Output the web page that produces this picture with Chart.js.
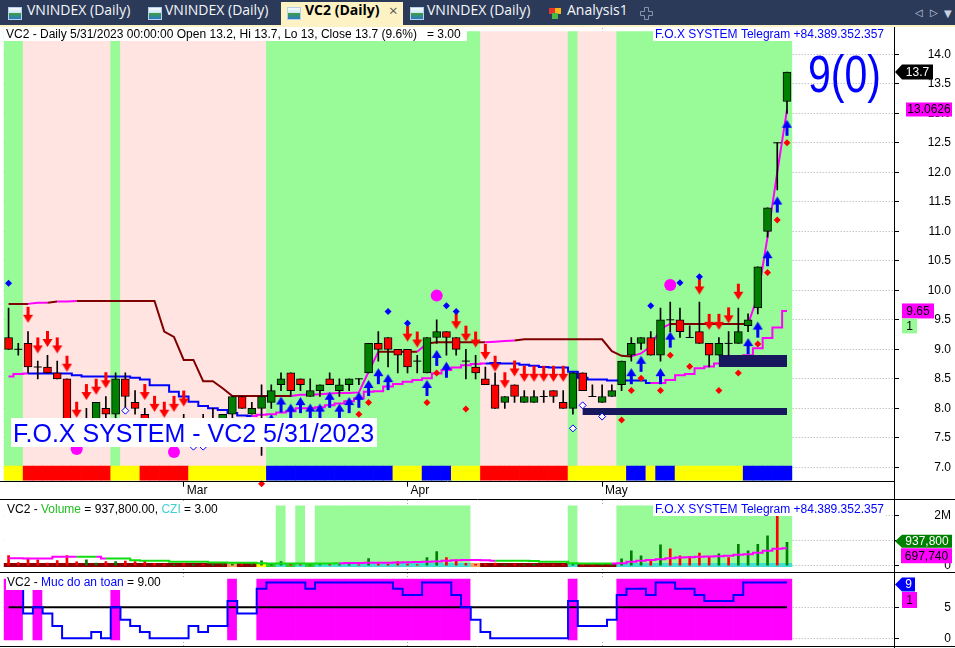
<!DOCTYPE html>
<html>
<head>
<meta charset="utf-8">
<title>VC2 (Daily)</title>
<script src="https://cdn.jsdelivr.net/npm/chart.js@4.4.0/dist/chart.umd.min.js"></script>
<style>
  html, body { margin: 0; padding: 0; background: #fff; }
  body { position: relative; width: 955px; height: 648px; overflow: hidden; }
  #tabs { position: absolute; left: 0; top: 0; width: 955px; height: 25px; background: #2b3a58; }
  #tabs .t { position: absolute; top: 0; height: 26px; line-height: 26px; color: #f5f7fb; font: 14px "Open Sans", sans-serif; white-space: nowrap; }
  #tabs .on { position: absolute; left: 281px; top: 2px; width: 122px; height: 24px; background: #fdf2c4; }
  #tabs .ico { position: absolute; top: 7px; width: 14px; height: 13px; box-sizing: border-box; border: 1px solid #b6d0ec;
               background: linear-gradient(180deg, #f5faff 0, #cde3f8 48%, #3b9d47 49%, #2a78c8 100%); }
  #tabs .an { position: absolute; width: 6px; height: 6px; }
  #tabline { position: absolute; left: 0; top: 25px; width: 955px; height: 2px; background: #fdf2c4; }
  canvas { position: absolute; left: 0; }
</style>
</head>
<body>
<div id="tabs">
  <div class="ico" style="left:8px"></div><div class="t" style="left:27px">VNINDEX (Daily)</div>
  <div class="ico" style="left:148px"></div><div class="t" style="left:165px">VNINDEX (Daily)</div>
  <div class="on"></div>
  <div class="ico" style="left:287px"></div><div class="t" style="left:305px;color:#000;font-weight:bold">VC2 (Daily)</div>
  <div class="t" style="left:389px;color:#555;font-size:15px">×</div>
  <div class="ico" style="left:410px"></div><div class="t" style="left:427px">VNINDEX (Daily)</div>
  <div class="an" style="left:549px;top:8px;background:#e8352b"></div>
  <div class="an" style="left:555px;top:8px;background:#f2b51c"></div>
  <div class="an" style="left:552px;top:13px;background:#4cb648"></div>
  <div class="t" style="left:567px">Analysis1</div>
  <svg style="position:absolute;left:640px;top:7px" width="13" height="13"><path d="M4.5 0.5h4v4h4v4h-4v4h-4v-4h-4v-4h4z" fill="none" stroke="#8a94a8"/></svg>
  <div class="t" style="left:915px;font:10px 'DejaVu Sans';line-height:26px;color:#c9d1e0">◁</div>
  <div class="t" style="left:930px;font:10px 'DejaVu Sans';line-height:26px;color:#c9d1e0">▷</div>
  <div class="t" style="left:944px;font:10px 'DejaVu Sans';line-height:28px;color:#c9d1e0">▼</div>
</div>
<div id="tabline"></div>
<canvas id="c1" width="955" height="472" style="top:27px"></canvas>
<canvas id="c2" width="955" height="73" style="top:499px"></canvas>
<canvas id="c3" width="955" height="76" style="top:572px"></canvas>

<script>
const FONT = '"Liberation Sans", Arial, sans-serif';

// ---------- data ----------
const febDays = [3, 6, 7, 8, 9, 10, 13, 14, 15, 16, 17, 20, 21, 22, 23, 24, 27, 28];
const marDays = [1, 2, 3, 6, 7, 8, 9, 10, 13, 14, 15, 16, 17, 20, 21, 22, 23, 24, 27, 28, 29, 30, 31];
const aprDays = [3, 4, 5, 6, 7, 10, 11, 12, 13, 14, 17, 18, 19, 20, 21, 24, 25, 26, 27, 28];
const mayDays = [4, 5, 8, 9, 10, 11, 12, 15, 16, 17, 18, 19, 22, 23, 24, 25, 26, 29, 30, 31];
const categories = [].concat(
  febDays.map(d => '2/' + d + '/2023'),
  marDays.map(d => '3/' + d + '/2023'),
  aprDays.map(d => '4/' + d + '/2023'),
  mayDays.map(d => '5/' + d + '/2023'));
const monthNames = { 2: 'Feb', 3: 'Mar', 4: 'Apr', 5: 'May' };

const priceTicks = [7.0, 7.5, 8.0, 8.5, 9.0, 9.5, 10.0, 10.5, 11.0, 11.5, 12.0, 12.5, 13.0, 13.5, 14.0];
const volumeTicks = [0, 1000000, 2000000];
const safetyTicks = [0, 5];

const open = [9.2, 9.0, 9.1, 8.7, 8.7, 8.6, 8.5, 7.7, 7.5, 7.7,
  8.0, 7.9, 8.5, 8.1, 7.9, 7.8, 7.6, 7.5, 7.7, 7.6,
  7.8, 7.7, 7.7, 7.9, 8.2, 7.9, 8.0, 8.1, 8.4, 8.6,
  8.5, 8.2, 8.3, 8.5, 8.3, 8.4, 8.5, 8.6, 9.1, 9.2,
  9.0, 9.0, 8.8, 8.6, 9.2, 9.3, 9.2, 8.8, 8.7, 8.5,
  8.4, 8.1, 8.4, 8.1, 8.1, 8.2, 8.3, 8.1, 8.0, 8.6,
  8.2, 8.1, 8.2, 8.4, 8.9, 9.1, 9.2, 8.9, 9.5, 9.5,
  9.2, 9.3, 9.1, 8.9, 9.1, 9.1, 9.4, 9.7, 11.0, 12.5,
  13.2];
const high = [9.7, 9.1, 9.3, 8.8, 8.9, 8.8, 8.5, 7.7, 8.0, 8.1,
  8.2, 8.6, 8.6, 8.3, 8.0, 7.8, 7.7, 7.8, 7.9, 7.8,
  7.9, 8.0, 7.9, 8.2, 8.2, 8.1, 8.4, 8.4, 8.6, 8.6,
  8.5, 8.5, 8.4, 8.6, 8.5, 8.5, 8.5, 9.1, 9.3, 9.2,
  9.0, 9.0, 8.9, 9.2, 9.5, 9.3, 9.2, 9.0, 8.9, 8.7,
  8.6, 8.2, 8.4, 8.3, 8.3, 8.3, 8.3, 8.3, 8.6, 8.6,
  8.4, 8.4, 8.4, 8.8, 9.2, 9.2, 9.3, 9.7, 9.8, 9.7,
  9.4, 9.8, 9.1, 9.2, 9.3, 9.7, 9.6, 10.4, 11.4, 12.5,
  13.7];
const low = [9.0, 8.9, 8.6, 8.5, 8.6, 8.5, 7.6, 7.4, 7.5, 7.6,
  7.8, 7.8, 8.0, 7.9, 7.7, 7.5, 7.4, 7.4, 7.5, 7.5,
  7.6, 7.6, 7.6, 7.8, 8.0, 7.9, 7.2, 8.0, 8.3, 8.2,
  8.3, 8.2, 8.2, 8.4, 8.2, 8.3, 8.4, 8.6, 8.8, 8.7,
  8.6, 8.6, 8.6, 8.6, 9.1, 8.9, 8.9, 8.5, 8.5, 8.4,
  8.0, 8.0, 8.1, 8.1, 8.1, 8.1, 8.1, 8.0, 7.9, 8.3,
  8.2, 8.1, 8.2, 8.3, 8.8, 9.0, 8.9, 8.8, 9.3, 9.2,
  9.2, 9.1, 8.7, 8.9, 8.9, 9.1, 9.3, 9.6, 10.9, 11.7,
  13.0];
const close = [9.0, 9.0, 8.7, 8.7, 8.6, 8.5, 7.7, 7.5, 7.7, 8.1,
  7.9, 8.5, 8.2, 8.0, 7.8, 7.6, 7.5, 7.6, 7.6, 7.7,
  7.7, 7.8, 7.9, 8.2, 8.0, 8.0, 8.2, 8.3, 8.5, 8.3,
  8.4, 8.3, 8.4, 8.4, 8.4, 8.5, 8.5, 9.1, 9.0, 9.0,
  8.9, 8.7, 8.8, 9.2, 9.3, 9.2, 9.0, 8.8, 8.6, 8.4,
  8.0, 8.2, 8.2, 8.2, 8.2, 8.2, 8.2, 8.0, 8.6, 8.3,
  8.2, 8.2, 8.3, 8.8, 9.1, 9.2, 8.9, 9.5, 9.5, 9.3,
  9.2, 9.1, 8.9, 9.1, 9.1, 9.3, 9.5, 10.4, 11.4, 12.5,
  13.7];

const volume = [400000, 120000, 300000, 230000, 100000, 200000, 400000, 150000, 230000, 100000,
  160000, 160000, 180000, 160000, 180000, 90000, 60000, 50000, 80000, 50000,
  60000, 50000, 40000, 60000, 50000, 40000, 190000, 50000, 160000, 50000,
  40000, 30000, 40000, 50000, 40000, 40000, 30000, 280000, 60000, 50000,
  160000, 60000, 40000, 320000, 560000, 320000, 230000, 90000, 50000, 60000,
  100000, 40000, 60000, 40000, 50000, 30000, 50000, 40000, 60000, 50000,
  30000, 40000, 50000, 270000, 590000, 390000, 230000, 830000, 670000, 390000,
  370000, 500000, 370000, 470000, 320000, 850000, 590000, 850000, 1190000, 1990000,
  937800];
const volumeAvg = [300000, 300000, 290000, 290000, 290000, 360000, 360000, 360000, 360000, 360000,
  290000, 290000, 290000, 220000, 200000, 200000, 200000, 160000, 160000, 160000,
  160000, 130000, 130000, 120000, 120000, 120000, 100000, 90000, 90000, 90000,
  90000, 90000, 90000, 90000, 100000, 110000, 110000, 120000, 120000, 120000,
  130000, 140000, 150000, 160000, 170000, 200000, 220000, 230000, 230000, 220000,
  200000, 200000, 200000, 200000, 190000, 160000, 160000, 160000, 100000, 90000,
  90000, 90000, 90000, 100000, 160000, 200000, 230000, 260000, 300000, 330000,
  340000, 360000, 370000, 380000, 400000, 440000, 460000, 520000, 600000, 680000,
  697740];

// upper trailing line (brown / magenta) and lower stop line (blue / magenta)
const trendLine = [9.77, 9.77, 9.77, 9.79, 9.79, 9.81, 9.81, 9.82, 9.82, 9.82,
  9.82, 9.82, 9.82, 9.82, 9.82, 9.82, 9.30, 9.21, 8.82, 8.82,
  8.46, 8.46, 8.34, 8.21, 8.21, 8.21, 8.21, 8.21, 8.21, 8.21,
  8.23, 8.23, 8.24, 8.25, 8.26, 8.26, 8.27, 8.62, 8.96, 8.96,
  8.96, 8.96, 8.96, 9.10, 9.12, 9.12, 9.12, 9.12, 9.12, 9.12,
  9.13, 9.14, 9.15, 9.17, 9.17, 9.17, 9.17, 9.17, 9.17, 9.17,
  9.17, 9.17, 8.97, 8.89, 8.88, 8.93, 9.05, 9.35, 9.43, 9.43,
  9.43, 9.43, 9.43, 9.43, 9.43, 9.43, 9.43, 9.90, 10.90, 12.00,
  13.0626];
const stopLine = [8.54, 8.58, 8.59, 8.59, 8.59, 8.59, 8.59, 8.56, 8.54, 8.54,
  8.54, 8.54, 8.54, 8.52, 8.49, 8.39, 8.39, 8.28, 8.20, 8.11,
  8.04, 8.00, 7.97, 7.92, 7.88, 7.87, 7.89, 7.90, 7.93, 7.95,
  8.00, 8.00, 8.02, 8.05, 8.08, 8.12, 8.17, 8.28, 8.29, 8.37,
  8.41, 8.45, 8.48, 8.51, 8.59, 8.65, 8.69, 8.73, 8.75, 8.76,
  8.77, 8.76, 8.76, 8.74, 8.72, 8.70, 8.69, 8.69, 8.62, 8.52,
  8.49, 8.49, 8.47, 8.47, 8.47, 8.47, 8.43, 8.43, 8.48, 8.56,
  8.58, 8.68, 8.71, 8.76, 8.80, 8.85, 8.90, 9.02, 9.19, 9.37,
  9.65];
const safety = [8, 8, 4, 5, 4, 2, 0, 0, 0, 1,
  0, 5, 3, 2, 1, 0, 0, 0, 0, 2,
  1, 2, 2, 6, 4, 4, 8, 9, 9, 9,
  9, 8, 9, 9, 9, 9, 9, 9, 9, 9,
  8, 7, 7, 9, 9, 9, 7, 5, 3, 1,
  0, 0, 0, 0, 0, 0, 0, 0, 6, 2,
  2, 2, 3, 7, 8, 8, 7, 9, 9, 8,
  8, 7, 6, 6, 6, 7, 9, 9, 9, 9,
  9];
const safeLevel = 5;
const cziValue = 3;
const zoneFlag = 1;

// signal markers: bar index + price
const sellBars = [2, 3, 4, 5, 6, 7, 8, 9, 10, 14, 15, 16, 17, 18, 41, 42, 46, 47, 48, 49, 50, 51, 52, 53, 54, 55, 56, 57, 71, 72, 73, 74, 75];
const sellPrice = [9.45, 8.93, 9.04, 8.93, 8.62, 7.84, 8.14, 8.23, 8.34, 8.14, 7.94, 7.84, 7.94, 8.03, 9.13, 9.03, 9.34, 9.13, 9.03, 8.82, 8.62, 8.34, 8.54, 8.45, 8.45, 8.45, 8.45, 8.45, 9.93, 9.33, 9.33, 9.44, 9.84];
const buyBars = [27, 28, 29, 30, 31, 32, 33, 34, 35, 36, 37, 38, 39, 43, 44, 45, 64, 65, 67, 68, 76, 77, 78, 79, 80];
const buyPrice = [7.90, 8.20, 8.08, 8.19, 8.08, 8.08, 8.28, 8.08, 8.19, 8.28, 8.48, 8.68, 8.58, 8.48, 8.99, 8.79, 8.68, 8.89, 8.68, 9.30, 9.19, 9.47, 10.68, 11.59, 12.89];
const redDotBars = [26, 36, 37, 43, 44, 47, 63, 64, 65, 67, 68, 70, 73, 75, 77, 78, 79, 80];
const redDotPrice = [6.72, 7.90, 8.10, 8.10, 8.60, 7.99, 7.80, 8.30, 8.51, 8.30, 8.90, 8.71, 8.30, 8.60, 9.09, 10.30, 11.19, 12.50];
const blueDotBars = [0, 39, 41, 45, 46, 66, 69, 71];
const blueDotPrice = [10.12, 9.64, 9.44, 9.74, 9.64, 9.74, 10.13, 10.23];
const hollowBars = [12, 19, 20, 58, 59, 61];
const hollowPrice = [7.96, 7.35, 7.35, 7.66, 8.05, 7.86];
const bigDotBars = [7, 17, 44, 68];
const bigDotPrice = [7.31, 7.26, 9.91, 10.09];
const boxFrom = [59, 73];
const boxTo = [80, 80];
const boxLevel = [7.945, 8.80];

// per-bar states as runs: [code, count]
const mainZoneRuns = [['G', 2], ['P', 9], ['G', 1], ['P', 15], ['G', 22], ['P', 9], ['G', 1], ['P', 4], ['G', 18]];
const signalRuns = [['Y', 2], ['R', 9], ['Y', 3], ['R', 5], ['Y', 8], ['B', 13], ['Y', 3], ['B', 3], ['Y', 3], ['R', 9], ['Y', 6], ['B', 2], ['Y', 1], ['B', 2], ['Y', 7], ['B', 5]];
const trendColorRuns = [['B', 3], ['M', 2], ['B', 1], ['M', 2], ['B', 22], ['M', 9], ['B', 4], ['M', 1], ['B', 6], ['M', 3], ['B', 12], ['M', 4], ['B', 8], ['M', 4]];
const stopColorRuns = [['M', 3], ['B', 23], ['M', 24], ['B', 17], ['M', 14]];
const volZoneRuns = [['.', 28], ['G', 1], ['.', 1], ['G', 1], ['.', 1], ['G', 16], ['.', 10], ['G', 1], ['.', 4], ['G', 18]];
const volStripRuns = [['D', 23], ['O', 1], ['D', 2], ['Y', 1], ['L', 1], ['C', 1], ['L', 1], ['C', 1], ['L', 1], ['C', 16], ['O', 1], ['D', 9], ['C', 1], ['D', 4], ['C', 18]];
const volAvgColorRuns = [['G', 1], ['M', 7], ['G', 2], ['M', 1], ['G', 24], ['M', 16], ['G', 12], ['M', 18]];

// ---------- helpers ----------
function expand(runs) {
  const out = [];
  runs.forEach(([c, n]) => { for (let k = 0; k < n; k++) out.push(c); });
  return out;
}
const mainZone = expand(mainZoneRuns);
const signal = expand(signalRuns);
const trendCol = expand(trendColorRuns);
const stopCol = expand(stopColorRuns);
const volZone = expand(volZoneRuns);
const volStrip = expand(volStripRuns);
const volAvgCol = expand(volAvgColorRuns);

const idx = categories.map((_, i) => i);
const last = categories.length - 1;
const month = i => +categories[i].split('/')[0];
const monthStarts = idx.filter(i => i > 0 && month(i) !== month(i - 1));

const GREEN_BG = '#98fb98', PINK_BG = '#ffe4e1', MAG = '#ff00ff', BROWN = '#800000', BLUE = '#0000ff';
const UP = '#008000', DOWN = '#ff0000';

const measure = document.createElement('canvas').getContext('2d');
function textWidth(t, size) { measure.font = size + 'px ' + FONT; return measure.measureText(t).width; }

function makeArrow(color, down) {
  const c = document.createElement('canvas');
  c.width = 11; c.height = 34;
  const g = c.getContext('2d');
  g.fillStyle = color;
  g.beginPath();
  if (down) {
    g.rect(4, 1, 3, 8);
    g.moveTo(0.5, 9); g.lineTo(10.5, 9); g.lineTo(5.5, 17); g.closePath();
  } else {
    g.moveTo(5.5, 17); g.lineTo(10.5, 25); g.lineTo(0.5, 25); g.closePath();
    g.rect(4, 25, 3, 8);
  }
  g.fill();
  return c;
}
const sellArrow = makeArrow(DOWN, true);
const buyArrow = makeArrow(BLUE, false);

const X_MIN = -0.5, X_MAX = 91.1;
function xAxis(showLabels) {
  return {
    type: 'linear', min: X_MIN, max: X_MAX, offset: false,
    afterBuildTicks: s => { s.ticks = monthStarts.map(v => ({ value: v })); },
    afterFit: s => { s.height = showLabels ? 17.3 : 0; s.paddingLeft = 0; s.paddingRight = 0; s.paddingTop = 0; s.paddingBottom = 0; },
    grid: { offset: false, color: '#a9a9a9', drawTicks: showLabels, tickLength: 5, tickColor: '#000', tickBorderDash: [] },
    border: { display: false, dash: [1, 2] },
    ticks: {
      display: showLabels, autoSkip: false, maxRotation: 0, minRotation: 0, align: 'start', labelOffset: 3, padding: -3,
      color: '#000', font: { family: FONT, size: 12 },
      callback: v => monthNames[month(v)]
    }
  };
}
function yAxis(min, max, tickVals, fmt) {
  const widest = Math.max(...tickVals.map(v => textWidth(fmt(v), 12)));
  return {
    position: 'right', min, max, beginAtZero: false,
    afterBuildTicks: s => { s.ticks = tickVals.map(v => ({ value: v })); },
    afterFit: s => { s.width = 56; s.paddingLeft = 0; s.paddingRight = 0; s.paddingTop = 0; s.paddingBottom = 0; },
    grid: { color: '#a9a9a9', tickLength: 4, tickColor: '#000', tickBorderDash: [] },
    border: { display: false, dash: [1, 2] },
    ticks: { crossAlign: 'far', padding: 52 - widest, color: '#000', font: { family: FONT, size: 12 }, callback: v => fmt(v) }
  };
}
function baseOptions(showLabels, yCfg, padTop, padBottom) {
  return {
    responsive: false, animation: false, devicePixelRatio: 1, events: [],
    layout: { autoPadding: false, padding: { left: 3.7, right: 4, top: padTop, bottom: padBottom } },
    plugins: { legend: { display: false }, tooltip: { enabled: false } },
    scales: { x: xAxis(showLabels), y: yCfg }
  };
}
function band(lo, hi, colors, order) {
  return {
    type: 'bar', order, grouped: false, barPercentage: 1, categoryPercentage: 1, borderWidth: 0,
    data: idx.map(i => ({ x: i, y: [lo, hi] })), backgroundColor: colors
  };
}
function markers(bars, prices, style, order, extra) {
  return Object.assign({
    type: 'line', order, showLine: false, pointStyle: style, pointRadius: 5,
    data: bars.map((b, k) => ({ x: b, y: prices[k] }))
  }, extra || {});
}
function fillBox(ctx, x, y, w, h) { ctx.fillStyle = '#fff'; ctx.fillRect(x, y, w, h); }
function drawParts(ctx, parts, x, y, size, align) {
  ctx.font = size + 'px ' + FONT;
  ctx.textBaseline = 'middle';
  ctx.textAlign = 'left';
  if (align === 'right') x -= parts.reduce((s, p) => s + ctx.measureText(p[0]).width, 0);
  parts.forEach(([t, c]) => { ctx.fillStyle = c; ctx.fillText(t, x, y); x += ctx.measureText(t).width; });
}
function tag(ctx, y, text, bg, fg, left, right, h, arrow) {
  ctx.fillStyle = bg;
  ctx.beginPath();
  if (arrow) {
    ctx.moveTo(left, y); ctx.lineTo(left + 7, y - h / 2); ctx.lineTo(right, y - h / 2);
    ctx.lineTo(right, y + h / 2); ctx.lineTo(left + 7, y + h / 2); ctx.closePath();
  } else {
    ctx.rect(left, y - h / 2, right - left, h);
  }
  ctx.fill();
  ctx.fillStyle = fg;
  ctx.font = '12px ' + FONT;
  ctx.textAlign = 'center';
  ctx.textBaseline = 'middle';
  ctx.fillText(text, (left + (arrow ? 7 : 0) + right) / 2, y + 0.5);
}
function frame(ctx, chart, top, bottom) {
  ctx.strokeStyle = '#000';
  ctx.lineWidth = 1;
  ctx.beginPath();
  ctx.moveTo(894.5, 0); ctx.lineTo(894.5, chart.height);
  if (top) { ctx.moveTo(0, 0.5); ctx.lineTo(955, 0.5); }
  if (bottom !== undefined) { ctx.moveTo(0, bottom); ctx.lineTo(bottom > 100 ? 895 : 955, bottom); }
  ctx.stroke();
}

const FOX_TEL = 'F.O.X SYSTEM Telegram +84.389.352.357';
const pct = ((close[last] / close[last - 1] - 1) * 100).toFixed(1);
const header = 'VC2 - Daily ' + categories[last] + ' 00:00:00 Open ' + open[last] + ', Hi ' + high[last] +
  ', Lo ' + low[last] + ', Close ' + close[last] + ' (' + pct + '%)   = ' + cziValue.toFixed(2);

// ---------- price pane ----------
const bodyIdx = idx.filter(i => open[i] !== close[i]);
const dojiIdx = idx.filter(i => open[i] === close[i]);

const mainDeco = {
  id: 'mainDeco',
  afterDatasetsDraw(chart) {
    const ctx = chart.ctx;
    ctx.save();
    fillBox(ctx, 4, 0, 463, 14);
    drawParts(ctx, [[header, '#000']], 6, 7.5, 12);
    fillBox(ctx, 653, 0, 233, 14);
    drawParts(ctx, [[FOX_TEL, BLUE]], 884, 7.5, 12, 'right');
    fillBox(ctx, 11, 391, 366, 29);
    ctx.font = '25px ' + FONT;
    ctx.fillStyle = BLUE; ctx.textAlign = 'left'; ctx.textBaseline = 'alphabetic';
    ctx.fillText('F.O.X SYSTEM - VC2 ' + categories[last], 13, 414.5);
    const big = safety[last] + '(0)';
    ctx.font = '52px ' + FONT;
    const sx = 73 / ctx.measureText(big).width;
    ctx.translate(808, 64.7);
    ctx.scale(sx, 1);
    ctx.fillText(big, 0, 0);
    ctx.restore();
  },
  afterDraw(chart) {
    const ctx = chart.ctx, ys = chart.scales.y;
    ctx.save();
    frame(ctx, chart, false, Math.round(chart.chartArea.bottom) - 0.5);
    tag(ctx, ys.getPixelForValue(close[last]), String(close[last]), '#000', '#fff', 895, 933, 15, true);
    tag(ctx, ys.getPixelForValue(trendLine[last]), String(trendLine[last]), MAG, '#000', 906, 952, 14, false);
    const yb = ys.getPixelForValue(stopLine[last]);
    tag(ctx, yb, String(stopLine[last]), MAG, '#000', 902, 934, 15, false);
    tag(ctx, yb + 15, String(zoneFlag), GREEN_BG, '#000', 902, 917, 15, false);
    ctx.restore();
  }
};

new Chart(document.getElementById('c1'), {
  type: 'bar',
  data: {
    datasets: [
      band(6.78, 14.385, idx.map(i => mainZone[i] === 'G' ? GREEN_BG : PINK_BG), 100),
      band(6.78, 7.02, idx.map(i => ({ Y: '#ffff00', R: '#ff0000', B: BLUE })[signal[i]]), 99),
      {
        type: 'line', order: 90, data: idx.map(i => ({ x: i, y: trendLine[i] })),
        borderColor: BROWN, borderWidth: 2, pointRadius: 0,
        segment: { borderColor: c => trendCol[c.p1DataIndex] === 'M' ? MAG : BROWN }
      },
      {
        type: 'line', order: 89, stepped: 'middle', data: idx.map(i => ({ x: i, y: stopLine[i] })),
        borderColor: BLUE, borderWidth: 2, pointRadius: 0,
        segment: { borderColor: c => stopCol[c.p1DataIndex] === 'M' ? MAG : BLUE }
      },
      {
        type: 'line', order: 85, borderColor: '#17175e', borderWidth: 7, borderCapStyle: 'butt', pointRadius: 0,
        data: idx.filter(i => i >= boxFrom[0] && i <= boxTo[0]).map(i => ({ x: i, y: boxLevel[0] }))
      },
      {
        type: 'line', order: 84, borderColor: '#17175e', borderWidth: 12, borderCapStyle: 'butt', pointRadius: 0,
        data: idx.filter(i => i >= boxFrom[1] && i <= boxTo[1]).map(i => ({ x: i, y: boxLevel[1] }))
      },
      {
        type: 'bar', order: 80, grouped: false, barThickness: 1, backgroundColor: '#000', borderWidth: 0,
        data: idx.map(i => ({ x: i, y: [low[i], high[i]] }))
      },
      {
        type: 'bar', order: 79, grouped: false, barThickness: 8, borderWidth: 1, borderColor: '#000', borderSkipped: false,
        data: bodyIdx.map(i => ({ x: i, y: [open[i], close[i]] })),
        backgroundColor: bodyIdx.map(i => close[i] > open[i] ? UP : DOWN)
      },
      markers(dojiIdx, dojiIdx.map(i => close[i]), 'line', 78, { pointRadius: 4, pointBorderColor: '#000', pointBorderWidth: 1 }),
      markers(sellBars, sellPrice, sellArrow, 10),
      markers(buyBars, buyPrice, buyArrow, 9),
      markers(redDotBars, redDotPrice, 'rectRot', 8, { pointRadius: 3.5, pointBackgroundColor: DOWN, pointBorderWidth: 0, clip: false }),
      markers(blueDotBars, blueDotPrice, 'rectRot', 7, { pointRadius: 3.5, pointBackgroundColor: BLUE, pointBorderWidth: 0 }),
      markers(hollowBars, hollowPrice, 'rectRot', 6, { pointRadius: 3.5, pointBackgroundColor: '#fff', pointBorderColor: BLUE, pointBorderWidth: 1 }),
      markers(bigDotBars, bigDotPrice, 'circle', 5, { pointRadius: 6, pointBackgroundColor: MAG, pointBorderWidth: 0 })
    ]
  },
  options: baseOptions(true, yAxis(6.756, 14.446, priceTicks, v => v.toFixed(1)), 1, 0),
  plugins: [mainDeco]
});

// ---------- volume pane ----------
const fmtInt = v => v.toLocaleString('en-US');
const volDeco = {
  id: 'volDeco',
  afterDatasetsDraw(chart) {
    const ctx = chart.ctx;
    ctx.save();
    fillBox(ctx, 4, 3, 218, 14);
    drawParts(ctx, [['VC2 - ', '#000'], ['Volume', '#1fbf1f'],
      [' = ' + volume[last].toLocaleString('en-US', { minimumFractionDigits: 2 }) + ', ', '#000'],
      ['CZI', '#40d0d0'], [' = ' + cziValue.toFixed(2), '#000']], 7, 10.5, 12);
    fillBox(ctx, 653, 3, 233, 14);
    drawParts(ctx, [[FOX_TEL, BLUE]], 884, 10.5, 12, 'right');
    ctx.restore();
  },
  afterDraw(chart) {
    const ctx = chart.ctx, ys = chart.scales.y;
    ctx.save();
    frame(ctx, chart, true);
    const yv = ys.getPixelForValue(volume[last]) - 1;
    tag(ctx, yv, fmtInt(volume[last]), UP, '#fff', 895, 952, 13, true);
    tag(ctx, yv + 14.5, fmtInt(volumeAvg[last]), MAG, '#000', 901, 952, 15, false);
    ctx.restore();
  }
};
const stripMap = { D: '#8b0000', O: '#f4a460', Y: '#ffff00', L: '#32cd32', C: '#40e0d0' };
new Chart(document.getElementById('c2'), {
  type: 'bar',
  data: {
    datasets: [
      band(-40000, 2390000, idx.map(i => volZone[i] === 'G' ? GREEN_BG : '#ffffff'), 100),
      band(-40000, 90000, idx.map(i => stripMap[volStrip[i]]), 99),
      {
        type: 'bar', order: 50, grouped: false, barThickness: 2, borderWidth: 0,
        data: idx.map(i => ({ x: i, y: volume[i] })),
        backgroundColor: idx.map(i => close[i] > open[i] ? UP : DOWN)
      },
      {
        type: 'line', order: 10, stepped: 'middle', data: idx.map(i => ({ x: i, y: volumeAvg[i] })),
        borderColor: MAG, borderWidth: 2, pointRadius: 0,
        segment: { borderColor: c => volAvgCol[c.p1DataIndex] === 'M' ? MAG : '#10dd10' }
      }
    ]
  },
  options: baseOptions(false, yAxis(-212000, 2628000, volumeTicks, v => v === 0 ? '0' : (v / 1000000) + 'M'), 1, 1),
  plugins: [volDeco]
});

// ---------- safety pane ----------
const safeDeco = {
  id: 'safeDeco',
  afterDatasetsDraw(chart) {
    const ctx = chart.ctx;
    ctx.save();
    fillBox(ctx, 6, 3, 154, 15);
    drawParts(ctx, [['VC2 - ', '#000'], ['Muc do an toan', BLUE], [' = ' + safety[last].toFixed(2), '#000']], 7, 10.5, 12);
    ctx.restore();
  },
  afterDraw(chart) {
    const ctx = chart.ctx, ys = chart.scales.y;
    ctx.save();
    frame(ctx, chart, true, 74.5);
    const y9 = ys.getPixelForValue(safety[last]) + 2;
    tag(ctx, y9, String(safety[last]), BLUE, '#fff', 895, 915, 14, true);
    tag(ctx, y9 + 15.5, String(zoneFlag), MAG, '#000', 902, 917, 16, false);
    ctx.restore();
  }
};
new Chart(document.getElementById('c3'), {
  type: 'bar',
  data: {
    datasets: [
      band(-0.27, 9.55, idx.map(i => safety[i] >= safeLevel ? MAG : '#ffffff'), 100),
      {
        type: 'line', order: 20, data: idx.map(i => ({ x: i, y: safeLevel })),
        borderColor: '#000', borderWidth: 2, pointRadius: 0
      },
      {
        type: 'line', order: 10, stepped: 'middle', data: idx.map(i => ({ x: i, y: safety[i] })),
        borderColor: BLUE, borderWidth: 2, pointRadius: 0
      }
    ]
  },
  options: baseOptions(false, yAxis(-1.242, 10.532, safetyTicks, v => String(v)), 1, 2),
  plugins: [safeDeco]
});
</script>
</body>
</html>
